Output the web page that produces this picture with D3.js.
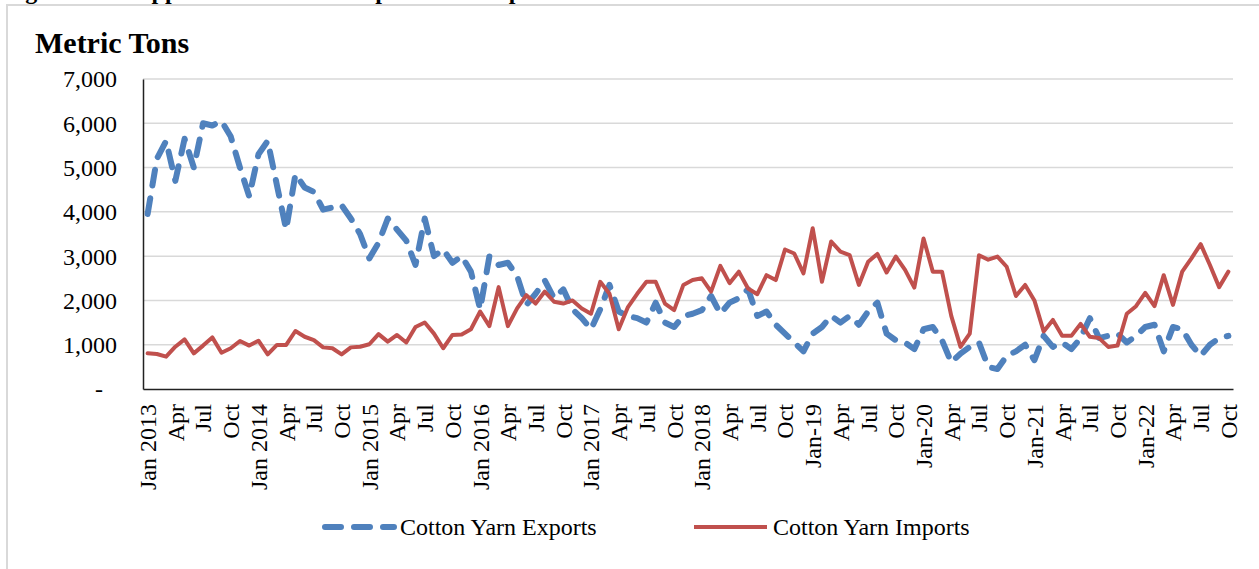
<!DOCTYPE html>
<html>
<head>
<meta charset="utf-8">
<script src="https://cdn.jsdelivr.net/npm/d3@7/dist/d3.min.js"></script>
<style>
  html, body { margin: 0; padding: 0; background: #fff; }
  svg { display: block; }
  text { font-family: "Liberation Serif", "Times New Roman", serif; fill: #000; }
</style>
</head>
<body>
<svg id="chart" width="1259" height="569"></svg>
<script>
// ---- data ----
const years = [2013, 2014, 2015, 2016, 2017, 2018, 2019, 2020, 2021, 2022];
const monthNames = ["Jan","Feb","Mar","Apr","May","Jun","Jul","Aug","Sep","Oct","Nov","Dec"];
const lastMonthIndex = 9; // data ends Oct 2022

const exportsTons = [
  3950, 5200, 5600, 4700, 5650, 5000, 6000, 5950, 6050, 5700, 5000, 4350,
  5300, 5600, 4600, 3600, 4850, 4550, 4450, 4050, 4100, 4150, 3850, 3500,
  2950, 3300, 3850, 3600, 3350, 2800, 3850, 3000, 3150, 2850, 3000, 2650,
  1800, 3000, 2800, 2850, 2550, 1900, 2150, 2450, 2050, 2250, 1800, 1600,
  1350, 1800, 2350, 1750, 1650, 1600, 1500, 1950, 1500, 1400, 1650, 1700,
  1780, 2100, 1700, 1950, 2050, 2250, 1650, 1750, 1450, 1250, 1050, 850,
  1250, 1400, 1650, 1500, 1650, 1450, 1750, 1950, 1250, 1100, 1050, 900,
  1350, 1400, 1100, 600, 800, 950, 1050, 500, 450, 750, 850, 1000,
  650, 1200, 950, 1050, 900, 1150, 1600, 1150, 1200, 1250, 1050, 1200,
  1400, 1450, 850, 1400, 1350, 1000, 750, 1000, 1150, 1200
];
const importsTons = [
  805, 790, 730, 955, 1120, 805, 980, 1165, 820, 920, 1085, 980,
  1090, 780, 995, 995, 1310, 1180, 1105, 940, 920, 780, 940, 955,
  1010, 1240, 1070, 1220, 1050, 1400, 1500, 1250, 920, 1220, 1230, 1350,
  1750, 1420, 2300, 1420, 1820, 2120, 1930, 2200, 1970, 1930, 2000, 1820,
  1700, 2420, 2150, 1350, 1850, 2150, 2420, 2420, 1930, 1780, 2350, 2460,
  2500, 2200, 2780, 2390, 2650, 2270, 2140, 2570, 2460, 3150, 3060, 2610,
  3630, 2420, 3330, 3100, 3025, 2350, 2875, 3050, 2630, 2990, 2690, 2290,
  3400, 2650, 2650, 1650, 950, 1250, 3020, 2920, 2990, 2760, 2100, 2350,
  2000, 1300, 1560, 1200, 1200, 1470, 1180, 1150, 950, 980, 1700, 1870,
  2170, 1870, 2570, 1900, 2650, 2950, 3270, 2800, 2300, 2650
];
const xTickLabels = [
  "Jan 2013","Apr","Jul","Oct","Jan 2014","Apr","Jul","Oct",
  "Jan 2015","Apr","Jul","Oct","Jan 2016","Apr","Jul","Oct",
  "Jan 2017","Apr","Jul","Oct","Jan 2018","Apr","Jul","Oct",
  "Jan-19","Apr","Jul","Oct","Jan-20","Apr","Jul","Oct",
  "Jan-21","Apr","Jul","Oct","Jan-22","Apr","Jul","Oct"
];
const yTickValues = [0, 1000, 2000, 3000, 4000, 5000, 6000, 7000];
const yTickLabels = ["-", "1,000", "2,000", "3,000", "4,000", "5,000", "6,000", "7,000"];
const seriesNames = ["Cotton Yarn Exports", "Cotton Yarn Imports"];

// categories (month keys)
const categories = [];
years.forEach(y => monthNames.forEach((m, mi) => {
  if (y === 2022 && mi > lastMonthIndex) return;
  categories.push(m + " " + y);
}));

// ---- layout ----
const svg = d3.select("#chart");
const plot = { left: 143, right: 1233, top: 79, bottom: 389 };
const font = '"Liberation Serif", "Times New Roman", serif';

// outer frame
svg.append("rect").attr("x", 7).attr("y", 5).attr("width", 1270).attr("height", 600)
  .attr("fill", "none").attr("stroke", "#d9d9d9").attr("stroke-width", 2);

// partially visible figure heading (cut off at top, as in the source page)
svg.append("text").attr("x", 4).attr("y", -1)
  .style("font-size", "24px").style("font-weight", "bold")
  .text("Figure 1: Philippine Cotton Yarn Exports and Imports");

// axis title
svg.append("text").attr("x", 35).attr("y", 53)
  .style("font-size", "30px").style("font-weight", "bold")
  .text("Metric Tons");

const x = d3.scaleBand().domain(categories).range([plot.left, plot.right]).padding(0);
const y = d3.scaleLinear().domain([0, 7000]).range([plot.bottom, plot.top]);
const cx = d => x(d) + x.bandwidth() / 2;

// gridlines
svg.append("g").selectAll("line").data(yTickValues.filter(v => v > 0)).join("line")
  .attr("x1", plot.left).attr("x2", plot.right)
  .attr("y1", d => y(d)).attr("y2", d => y(d))
  .attr("stroke", "#d9d9d9").attr("stroke-width", 1.5);

// y axis
const yAxis = svg.append("g").attr("transform", `translate(${plot.left},0)`)
  .call(d3.axisLeft(y).tickValues(yTickValues)
    .tickFormat((d, i) => yTickLabels[i]).tickSize(0).tickPadding(26).tickSizeOuter(0));
yAxis.select(".domain").attr("stroke", "#222").attr("stroke-width", 1.5);
yAxis.selectAll("text").style("font-size", "24px").style("font-family", font)
  .attr("fill", "#000").attr("dy", "0.33em")
  .filter(d => d === 0).attr("dx", -14);

// x axis
const tickCats = categories.filter((c, i) => i % 3 === 0);
const xAxis = svg.append("g").attr("transform", `translate(0,${plot.bottom})`)
  .call(d3.axisBottom(x).tickValues(tickCats)
    .tickFormat((d, i) => xTickLabels[i]).tickSize(0).tickSizeOuter(0));
xAxis.select(".domain").attr("stroke", "#222").attr("stroke-width", 1.5);
xAxis.selectAll(".tick text")
  .style("font-size", "24px").style("font-family", font).attr("fill", "#000")
  .attr("text-anchor", "end")
  .attr("transform", "translate(0,15) rotate(-90)")
  .attr("x", 0).attr("y", 0).attr("dy", "0.35em");

// lines
const line = vals => d3.line()
  .x((d, i) => cx(categories[i]))
  .y(d => y(d))(vals);

svg.append("path").attr("d", line(exportsTons))
  .attr("fill", "none").attr("stroke", "#4f81bd").attr("stroke-width", 6)
  .attr("stroke-dasharray", "16,13").attr("stroke-linecap", "round").attr("stroke-linejoin", "round");

svg.append("path").attr("d", line(importsTons))
  .attr("fill", "none").attr("stroke", "#c0504d").attr("stroke-width", 4)
  .attr("stroke-linecap", "round").attr("stroke-linejoin", "round");

// legend
const leg = svg.append("g");
leg.append("line").attr("x1", 325).attr("x2", 394).attr("y1", 527).attr("y2", 527)
  .attr("stroke", "#4f81bd").attr("stroke-width", 6)
  .attr("stroke-dasharray", "16,13").attr("stroke-linecap", "round");
leg.append("text").attr("x", 400).attr("y", 535).style("font-size", "24px").text(seriesNames[0]);
leg.append("line").attr("x1", 694).attr("x2", 767).attr("y1", 527).attr("y2", 527)
  .attr("stroke", "#c0504d").attr("stroke-width", 4);
leg.append("text").attr("x", 773).attr("y", 535).style("font-size", "24px").text(seriesNames[1]);
</script>
</body>
</html>
